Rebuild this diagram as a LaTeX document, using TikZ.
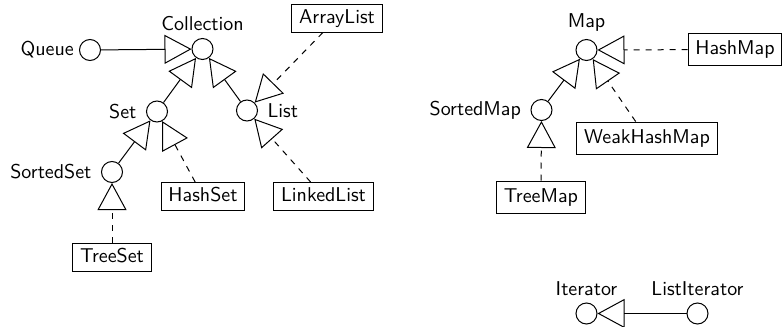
\documentclass[tikz,border=0pt]{standalone}
\usetikzlibrary{arrows.meta}
\begin{document}
\begin{tikzpicture}[x=0.5pt,y=-0.5pt,
  font=\sffamily,
  line width=0.5pt,
  iface/.style={circle,draw,inner sep=0pt,minimum size=10.5pt},
  cls/.style={draw,inner xsep=3.6pt,inner ysep=2.5pt,text height=7pt,text depth=2pt},
  clsr/.style={cls,inner ysep=3.5pt},
  lbl/.style={label distance=1.2pt},
  real/.style={-{Triangle[open,length=13.5pt,width=14.5pt]}},
  impl/.style={real,dashed}]
\useasboundingbox (0,0) rectangle (784,327);
% left part
\node[iface,label={[label distance=-1pt]left:Queue}] (queue) at (90,50) {};
\node[iface,label=above:Collection] (coll) at (202.5,49) {};
\node[cls] (arraylist) at (337,18) {ArrayList};
\node[iface,label={[lbl]left:Set}] (set) at (157,111.5) {};
\node[iface,label={[lbl]right:List}] (list) at (247,110.5) {};
\node[iface,label={[lbl]left:SortedSet}] (sortedset) at (112,172) {};
\node[cls] (hashset) at (203,196.5) {HashSet};
\node[cls] (linkedlist) at (323.5,196.5) {LinkedList};
\node[cls] (treeset) at (112,257) {TreeSet};
% right part
\node[iface,label=above:Map] (map) at (586.5,50) {};
\node[clsr] (hashmap) at (735,49.5) {HashMap};
\node[iface,label={[lbl]left:SortedMap}] (sortedmap) at (541.5,110) {};
\node[clsr] (weakhashmap) at (647,138) {WeakHashMap};
\node[clsr] (treemap) at (541,197) {TreeMap};
\node[iface,label=above:Iterator] (iterator) at (586.5,313.5) {};
\node[iface,label=above:ListIterator] (listiterator) at (697.5,313.5) {};
% connectors
\draw[real] (queue) -- (coll);
\draw[real] (set) -- (coll);
\draw[real] (list) -- (coll);
\draw[impl] (arraylist) -- (list);
\draw[real] (sortedset) -- (set);
\draw[impl] (hashset) -- (set);
\draw[impl] (linkedlist) -- (list);
\draw[impl] (treeset) -- (sortedset);
\draw[impl] (hashmap) -- (map);
\draw[real] (sortedmap) -- (map);
\draw[impl] (weakhashmap) -- (map);
\draw[impl] (treemap) -- (sortedmap);
\draw[real] (listiterator) -- (iterator);
\end{tikzpicture}
\end{document}
